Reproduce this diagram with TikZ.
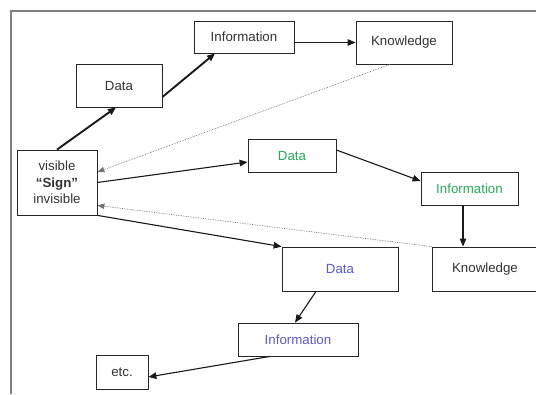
\documentclass[tikz,border=0pt]{standalone}
\usepackage{fontspec}
\setmainfont{Liberation Sans}
\usepackage{tikz}
\usetikzlibrary{arrows.meta,positioning}
\definecolor{signgreen}{RGB}{40,170,90}
\definecolor{signblue}{RGB}{90,90,200}

\begin{document}
\begin{tikzpicture}[
    x=1pt, y=-1pt,
    every node/.style={draw=black!85, line width=0.8pt, inner sep=0pt, align=center, text=black!80,
        font=\fontsize{13.3}{16.5}\selectfont},
    arrow/.style={-{Triangle[length=8pt,width=6.5pt]}, line width=1.1pt, black!90},
    bold arrow/.style={arrow, line width=1.9pt},
    back arrow/.style={-{Triangle[length=7pt,width=5.5pt]}, line width=0.7pt, densely dotted, black!55}
]
\useasboundingbox (0,0) rectangle (536,394);
% frame
\draw[gray, line width=1.5pt] (11,394) -- (11,11) -- (536,11);

\node (sign) [minimum width=80pt, minimum height=65pt] at (57,182.5) {visible\\\textbf{“Sign”}\\invisible};

\node (data1) [minimum width=86pt, minimum height=43pt] at (119,85.5) {Data};
\node (info1) [minimum width=100pt, minimum height=32pt] at (244,37) {Information};
\node (know1) [minimum width=96pt, minimum height=43pt] at (404,42.5) {Knowledge};

\node (data2) [minimum width=88pt, minimum height=33pt, text=signgreen] at (292,155.5) {Data};
\node (info2) [minimum width=97pt, minimum height=33pt, text=signgreen] at (469.5,188.5) {Information};
\node (know2) [minimum width=106pt, minimum height=44pt] at (485,269) {Knowledge};

\node (data3) [minimum width=116pt, minimum height=44pt, text=signblue] at (340,269) {Data};
\node (info3) [minimum width=120pt, minimum height=33pt, text=signblue] at (298,339.5) {Information};
\node (etc) [minimum width=52pt, minimum height=34pt] at (122,372) {etc.};

% first path
\draw[bold arrow] (sign.north) -- ([xshift=-3pt]data1.south);
\draw[bold arrow] ([yshift=-11.5pt]data1.east) -- ([xshift=-29pt]info1.south);
\draw[arrow] (info1.east |- know1.west) -- (know1.west);
\draw[back arrow] ([xshift=-14pt]know1.south) -- ([yshift=10.5pt]sign.east);

% second path
\draw[arrow] (sign.east) -- ([yshift=-6.5pt]data2.west);
\draw[arrow] ([yshift=5.5pt]data2.east) -- ([yshift=7.5pt]info2.west);
\draw[arrow] ([xshift=-6.5pt]info2.south) -- ([xshift=-6.5pt]info2.south |- know2.north);
\draw[back arrow] (know2.north west) -- ([yshift=10pt]sign.south east);

% third path
\draw[arrow] (sign.south east) -- (data3.north west);
\draw[arrow] ([xshift=-24pt]data3.south) -- ([xshift=-3pt]info3.north);
\draw[arrow] ([xshift=-28pt]info3.south) -- ([yshift=-5pt]etc.east);
\end{tikzpicture}
\end{document}
